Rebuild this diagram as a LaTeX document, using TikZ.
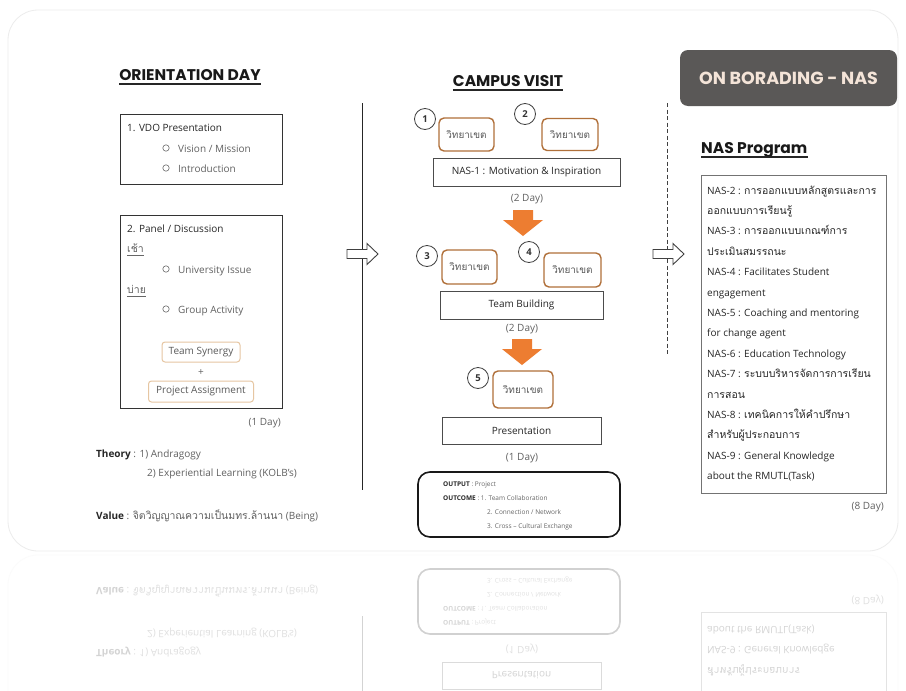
\documentclass[tikz,border=0pt]{standalone}
\usepackage{fontspec}
\setmainfont{Open Sans}
\newfontfamily\headfont{Poppins}
\newfontfamily\thaifont[Script=Thai,Scale=1.05]{Loma}
\usetikzlibrary{calc}
\definecolor{campbrown}{HTML}{B0703A}
\definecolor{tanline}{HTML}{E6C6A2}
\definecolor{orangeA}{HTML}{ED7D31}
\definecolor{darkbox}{HTML}{5A5857}
\definecolor{beige}{HTML}{F4E4D8}
\newcommand{\fsbody}{\fontsize{10}{12}\selectfont}
\newcommand{\fshead}{\headfont\bfseries\fontsize{15.5}{18}\selectfont}
\newcommand{\fsbanner}{\headfont\bfseries\fontsize{17.5}{20}\selectfont}
\newcommand{\fssmall}{\fontsize{6.5}{8}\selectfont}
\newcommand{\thx}[1]{{\thaifont #1}}
\tikzset{
  txt/.style={anchor=base west, inner sep=0pt, font=\fsbody, text=black!62},
  txtc/.style={anchor=base, inner sep=0pt, font=\fsbody, text=black!62},
  txte/.style={anchor=base east, inner sep=0pt, font=\fsbody, text=black!62},
  strong/.style={text=black!85},
  heading/.style={anchor=base, inner sep=0pt, font=\fshead, text=black!90},
  uline/.style={line width=1.3pt, black!85},
  framebox/.style={draw=black!80, line width=1.1pt, anchor=north west, inner sep=0pt},
  stagebox/.style={draw=black!70, line width=0.8pt, inner sep=0pt, font=\fsbody, text=black!85},
  campusbox/.style={draw=campbrown, rounded corners=5pt, line width=1.4pt, inner sep=0pt, font={\thaifont\fontsize{9.5}{11}\selectfont}, text=black!65},
  tanbox/.style={draw=tanline, rounded corners=3pt, line width=1pt, inner sep=0pt, font=\fsbody, text=black!65},
  numcircle/.style={circle, draw=black!75, line width=0.8pt, minimum size=21pt, inner sep=0pt, font={\fontsize{9.5}{10}\selectfont\bfseries}, text=black!80},
  bullet/.style={black!60, line width=0.6pt},
  hollowarrow/.style={draw=black!75, fill=white, line width=0.9pt, line join=miter},
  blockarrow/.style={fill=orangeA},
  naslist/.style={anchor=base west, inner sep=0pt, font=\fsbody, text=black!85},
  smalltxt/.style={anchor=base west, inner sep=0pt, font=\fssmall, text=black!60},
}
% ---- parts that are also mirrored
\newcommand{\cardframe}{%
  \draw[gray!15, line width=0.8pt, rounded corners=30pt] (8,10) rectangle (898,551);
}
\newcommand{\theoryvalue}{%
  \node[txt] (theory) at (96,457) {\textcolor{black!85}{\bfseries Theory} : 1) Andragogy};
  \node[txt] (theory2) at (147,476) {2) Experiential Learning (KOLB's)};
  \node[txt] (value) at (96,519) {\textcolor{black!85}{\bfseries Value} : \thx{จิตวิญญาณความเป็นมทร.ล้านนา} (Being)};
}
\newcommand{\divAline}{%
  \coordinate (divAtop) at (362,103);
  \coordinate (divAbot) at (362,490);
  \draw[black!85, line width=1pt] (divAtop) -- (divAbot);
}
\newcommand{\midbottom}{%
  \node[stagebox, minimum width=159pt, minimum height=27pt] (s3) at (521.5,430.5) {Presentation};
  \node[txtc] (d3) at (522,460) {(1 Day)};
  \node[draw=black!90, line width=1.6pt, rounded corners=12pt, minimum width=202pt, minimum height=65pt, inner sep=0pt] (outc) at (519,504.5) {};
  \node[smalltxt] (o1) at (443,486) {\textcolor{black!85}{\bfseries OUTPUT} : Project};
  \node[smalltxt] (o2) at (443,500) {\textcolor{black!85}{\bfseries OUTCOME} : 1. Team Collaboration};
  \node[smalltxt] (o3) at (487,514) {2. Connection / Network};
  \node[smalltxt] (o4) at (487,528) {3. Cross -- Cultural Exchange};
}
\newcommand{\nasbottom}{%
  \node[draw=black!55, line width=0.9pt, anchor=north west, minimum width=185pt, minimum height=318pt, inner sep=0pt] (nasbox) at (701,175) {};
  \node[naslist] (nasL13) at (707,173.6+20.4*13) {\thx{สำหรับผู้ประกอบการ}};
  \node[naslist] (nasL14) at (707,173.6+20.4*14) {NAS-9 : General Knowledge};
  \node[naslist] (nasL15) at (707,173.6+20.4*15) {about the RMUTL(Task)};
  \node[txte] (dayN) at (884,509) {(8 Day)};
}
\begin{document}
\begin{tikzpicture}[x=1pt, y=-1pt]
  \useasboundingbox (0,0) rectangle (906,691);
  \fill[white] (0,0) rectangle (906,691);
  \cardframe
  % ---------------- LEFT: ORIENTATION DAY
  \node[heading] (hOri) at (190,80) {ORIENTATION DAY};
  \draw[uline] ($(hOri.base west)+(0,4)$) -- ($(hOri.base east)+(0,4)$);
  \node[framebox, minimum width=162pt, minimum height=70pt] (vdo) at (120,114) {};
  \node[txt, strong] (vdoT) at (127,131) {1. VDO Presentation};
  \draw[bullet] (166,148) circle (3.2pt);
  \node[txt] (vdo1) at (178,152) {Vision / Mission};
  \draw[bullet] (166,168) circle (3.2pt);
  \node[txt] (vdo2) at (178,172) {Introduction};
  \node[framebox, minimum width=162pt, minimum height=193pt] (panel) at (120,215) {};
  \node[txt, strong] (panT) at (127,232) {2. Panel / Discussion};
  \node[txt] (morning) at (127,252) {\thx{เช้า}};
  \draw[black!60, line width=0.5pt] ($(morning.base west)+(0,3)$) -- ($(morning.base east)+(0,3)$);
  \draw[bullet] (166,269) circle (3.2pt);
  \node[txt] (pan1) at (178,273) {University Issue};
  \node[txt] (afternoon) at (127,293) {\thx{บ่าย}};
  \draw[black!60, line width=0.5pt] ($(afternoon.base west)+(0,3)$) -- ($(afternoon.base east)+(0,3)$);
  \draw[bullet] (166,309) circle (3.2pt);
  \node[txt] (pan2) at (178,313) {Group Activity};
  \node[tanbox, minimum width=78pt, minimum height=20pt] (syn) at (201,352) {Team Synergy};
  \node[txtc] (plus) at (201,375) {+};
  \node[tanbox, minimum width=105pt, minimum height=21pt] (proj) at (201,391.5) {Project Assignment};
  \node[txte] (dayA) at (281,425) {(1 Day)};
  \theoryvalue
  \divAline
  \draw[hollowarrow, shift={(362,254)}] (-15,-4.5) -- (5,-4.5) -- (5,-10.5) -- (16,0) -- (5,10.5) -- (5,4.5) -- (-15,4.5) -- cycle;
  % ---------------- MIDDLE: CAMPUS VISIT
  \node[heading] (hCam) at (508,86) {CAMPUS VISIT};
  \draw[uline] ($(hCam.base west)+(0,4)$) -- ($(hCam.base east)+(0,4)$);
  \node[numcircle] (n1) at (425,119) {1};
  \node[campusbox, minimum width=55pt, minimum height=33pt] (k1) at (466.5,134.5) {วิทยาเขต};
  \node[numcircle] (n2) at (525,114) {2};
  \node[campusbox, minimum width=56pt, minimum height=32pt] (k2) at (570,134.5) {วิทยาเขต};
  \node[stagebox, minimum width=187pt, minimum height=28pt] (s1) at (526.5,172) {NAS-1 : Motivation \& Inspiration};
  \node[txtc] (d1) at (527,201) {(2 Day)};
  \fill[blockarrow, shift={(523,210)}] (-10,0) -- (10,0) -- (10,10) -- (20,10) -- (0,26) -- (-20,10) -- (-10,10) -- cycle;
  \node[numcircle] (n3) at (427,256) {3};
  \node[campusbox, minimum width=55pt, minimum height=34pt] (k3) at (469.5,267) {วิทยาเขต};
  \node[numcircle] (n4) at (529,252) {4};
  \node[campusbox, minimum width=57pt, minimum height=34pt] (k4) at (572.5,270) {วิทยาเขต};
  \node[stagebox, minimum width=163pt, minimum height=28pt] (s2) at (521.5,305) {Team Building};
  \node[txtc] (d2) at (522,331) {(2 Day)};
  \fill[blockarrow, shift={(522,339)}] (-10,0) -- (10,0) -- (10,10) -- (20,10) -- (0,26) -- (-20,10) -- (-10,10) -- cycle;
  \node[numcircle] (n5) at (478,378) {5};
  \node[campusbox, minimum width=60pt, minimum height=37pt] (k5) at (523,389.5) {วิทยาเขต};
  \midbottom
  % divider + arrow
  \coordinate (divBtop) at (667,103);
  \coordinate (divBbot) at (667,355);
  \draw[black!75, line width=1pt, dash pattern=on 4pt off 2.5pt] (divBtop) -- (divBbot);
  \draw[hollowarrow, shift={(668,254)}] (-15,-4.5) -- (5,-4.5) -- (5,-10.5) -- (16,0) -- (5,10.5) -- (5,4.5) -- (-15,4.5) -- cycle;
  % ---------------- RIGHT: ON BOARDING
  \node[fill=darkbox, rounded corners=8pt, minimum width=217pt, minimum height=56pt, inner sep=0pt, font=\fsbanner, text=beige] (onb) at (788.5,78) {ON BORADING - NAS};
  \node[heading, anchor=base west] (hNas) at (701,153) {NAS Program};
  \draw[uline] ($(hNas.base west)+(0,4)$) -- ($(hNas.base east)+(0,4)$);
  \foreach \t [count=\i] in {%
    {NAS-2 : \thx{การออกแบบหลักสูตรและการ}},
    {\thx{ออกแบบการเรียนรู้}},
    {NAS-3 : \thx{การออกแบบเกณฑ์การ}},
    {\thx{ประเมินสมรรถนะ}},
    {NAS-4 : Facilitates Student},
    {engagement},
    {NAS-5 : Coaching and mentoring},
    {for change agent},
    {NAS-6 : Education Technology},
    {NAS-7 : \thx{ระบบบริหารจัดการการเรียน}},
    {\thx{การสอน}},
    {NAS-8 : \thx{เทคนิคการให้คำปรึกษา}}} {
    \node[naslist] (nasL\i) at (707,173.6+20.4*\i) {\t};
  }
  \nasbottom
  % ---------------- reflection
  \begin{scope}
    \clip (0,554) rectangle (906,691);
    \begin{scope}[yshift=-1106pt, yscale=-1, transform shape, opacity=0.2]
      \cardframe
      \theoryvalue
      \divAline
      \midbottom
      \nasbottom
    \end{scope}
  \end{scope}
\end{tikzpicture}
\end{document}
